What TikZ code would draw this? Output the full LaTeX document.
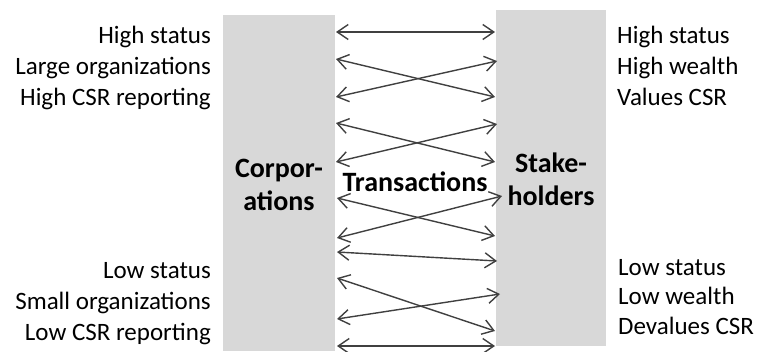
\documentclass[tikz,border=0pt]{standalone}
\usepackage{fontspec}
\setmainfont{Carlito}
\usetikzlibrary{arrows.meta}
\definecolor{boxgray}{RGB}{216,216,216}
\definecolor{arrowgray}{RGB}{64,64,64}
\tikzset{
  panel/.style={fill=boxgray, draw=none, inner sep=0pt, anchor=north west},
  sidetext/.style={font=\fontsize{25}{31}\selectfont, inner sep=0pt},
  bigtext/.style={font=\fontsize{28}{33}\selectfont\bfseries, inner sep=0pt, align=center},
  link/.style={draw=arrowgray, line width=1.4pt, {Straight Barb[length=11pt,width=15pt]}-{Straight Barb[length=11pt,width=15pt]}}
}
\begin{document}
\begin{tikzpicture}[x=1pt,y=-1pt]
\useasboundingbox (0,0) rectangle (758,351);
\node[panel, minimum width=112pt, minimum height=336pt] (corp) at (223,15) {};
\node[panel, minimum width=110pt, minimum height=336pt] (stake) at (496,10) {};
\node[bigtext] (corptext) at (279,185) {Corpor-\\ations};
\node[bigtext] (staketext) at (551,179) {Stake-\\holders};
\node[bigtext] (trans) at (415,182) {Transactions};
\node[sidetext, align=right, anchor=east] (lhigh) at (211,68) {High status\\Large organizations\\High CSR reporting};
\node[sidetext, align=left, anchor=west] (rhigh) at (617,66) {High status\\High wealth\\Values CSR};
\node[sidetext, align=right, anchor=east] (llow) at (211,304) {Low status\\Small organizations\\Low CSR reporting};
\node[sidetext, align=left, anchor=west, font=\fontsize{25}{29.5}\selectfont] (rlow) at (618,297) {Low status\\Low wealth\\Devalues CSR};
% arrow end points on the two panels
\coordinate (L1) at (336,32);  \coordinate (R1) at (495,32);
\coordinate (L2) at (336,59);  \coordinate (R2) at (495,97);
\coordinate (L3) at (336,97);  \coordinate (R3) at (497,61);
\coordinate (L4) at (336,123); \coordinate (R4) at (495,162);
\coordinate (L5) at (336,162); \coordinate (R5) at (497,124);
\coordinate (L6) at (337,198); \coordinate (R6) at (495,236);
\coordinate (L7) at (337,238); \coordinate (R7) at (502,196);
\coordinate (L8) at (337,252); \coordinate (R8) at (497,261);
\coordinate (L9) at (337,278); \coordinate (R9) at (495,331);
\coordinate (L10) at (337,319); \coordinate (R10) at (500,294);
\coordinate (L11) at (337,346); \coordinate (R11) at (495,346);
\foreach \n in {1,...,11}{
  \draw[link] (L\n) -- (R\n);
}
\end{tikzpicture}
\end{document}
